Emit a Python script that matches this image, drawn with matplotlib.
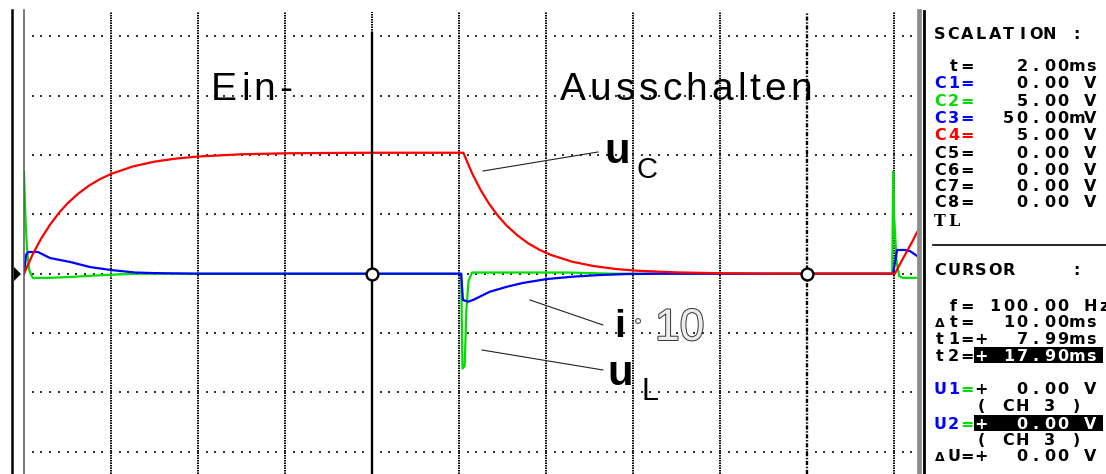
import numpy as np
import matplotlib.pyplot as plt
import matplotlib.patheffects as pe
from matplotlib.font_manager import FontProperties
from matplotlib.patches import Rectangle

plt.rcParams['lines.scale_dashes'] = False

# screen settings: 2 ms/div, C2/C4 at 5 V/div, C3 (shunt) at 50 mV/div
MS_PER_DIV = 2.0
UC_PER_DIV = 5.0
UL_PER_DIV = 5.0
I_PER_DIV = 50.0
cursor_t = [8.0, 18.0]

# C4: capacitor voltage u_C  (ms, V)
uc_t = [0.0, 0.2, 0.4, 0.6, 0.8, 1.0, 1.25, 1.5, 1.75, 2.0, 2.5, 3.0, 3.5, 4.0,
        5.0, 6.0, 7.0, 8.0, 10.1, 10.3, 10.5, 10.7, 10.9, 11.1, 11.35, 11.6,
        11.85, 12.1, 12.6, 13.1, 13.6, 14.1, 15.0, 16.0, 17.0, 20.02, 20.15,
        20.3, 20.42, 20.53]
uc_v = [0.0, 1.63, 3.00, 4.14, 5.11, 5.93, 6.76, 7.44, 7.98, 8.41, 9.04, 9.45,
        9.71, 9.88, 10.07, 10.15, 10.18, 10.2, 10.2, 8.48, 7.04, 5.85, 4.86,
        4.04, 3.21, 2.54, 2.02, 1.60, 1.01, 0.64, 0.40, 0.25, 0.11, 0.04, 0.0,
        0.0, 0.9, 1.9, 2.7, 3.5]

# C2: coil voltage u_L  (ms, V)
ul_t = [0.0, 0.03, 0.07, 0.12, 0.2, 0.6, 1.2, 1.8, 2.6, 10.05, 10.08, 10.13,
        10.17, 10.22, 10.3, 12.5, 13.5, 19.96, 19.98, 20.0, 20.06, 20.12, 20.2,
        20.53]
ul_v = [8.6, 5.0, 2.0, 0.3, -0.35, -0.35, -0.25, -0.12, 0.0, 0.0, -8.0, -7.8,
        -3.0, -0.6, 0.1, 0.1, 0.0, 0.0, 8.6, 5.0, 1.0, -0.2, -0.35, -0.35]

# C3: current i, as shunt voltage  (ms, mV)
i_t = [0.0, 0.05, 0.1, 0.32, 0.6, 1.06, 1.52, 2.0, 2.55, 3.0, 4.0, 10.05,
       10.09, 10.21, 10.32, 10.71, 11.1, 11.47, 12.02, 12.62, 13.24, 13.86,
       14.6, 19.98, 20.07, 20.25, 20.37, 20.53]
i_mv = [0.0, 16.0, 18.3, 18.3, 13.2, 9.9, 5.6, 3.1, 1.0, 0.5, 0.0, 0.0, -22.2,
        -23.6, -22.2, -15.2, -11.0, -7.8, -4.5, -2.5, -1.1, -0.3, 0.0, 0.0,
        20.0, 20.0, 19.0, 15.0]

W, H = 1106, 474
fig = plt.figure(figsize=(W / 100, H / 100), dpi=100, facecolor='white')

# screen area: 87 px per division across, 59.3 px per division up
ax = fig.add_axes([24 / W, 0, (917 - 24) / W, (474 - 12) / H])
ax.set_xlim(0, (917 - 24) / 87 * MS_PER_DIV)
ax.set_ylim((273.7 - 474) / 59.3, (273.7 - 12) / 59.3)
ax.axis('off')

# graticule
grid_ls = (0, (1.1, 0.7))
for k in range(1, 11):
    t = k * MS_PER_DIV
    if t in cursor_t:
        continue
    ax.axvline(t, color='k', lw=1.4, ls=grid_ls, zorder=1)
ax.axvline(cursor_t[0], ymin=(474 - 33) / (474 - 12), color='k', lw=1.4,
           ls=grid_ls, zorder=1)
dot_x = np.arange(0.2, 20.5, 0.2)
for row in range(-3, 5):
    ax.scatter(dot_x, np.full(dot_x.size, row), marker='s', s=2.0,
               color='#333333', linewidths=0, zorder=1)

# traces
ax.plot(ul_t, np.array(ul_v) / UL_PER_DIV, color='#00e000', lw=1.6, zorder=3)
ax.plot(i_t, np.array(i_mv) / I_PER_DIV, color='#0000ff', lw=1.6, zorder=4)
ax.plot(uc_t, np.array(uc_v) / UC_PER_DIV, color='#ff0000', lw=1.6, zorder=5)

# cursors
ax.axvline(cursor_t[0], ymax=(474 - 33) / (474 - 12), color='k', lw=1.7, zorder=6)
ax.axvline(cursor_t[1], color='k', lw=1.7, ls=(0, (3, 1.2, 1, 1.2)), zorder=6)
ax.plot(cursor_t, [0, 0], 'o', ms=8.5, mfc='white', mec='k', mew=1.7, zorder=7)

# frame, labels and side panel in pixel coordinates
ov = fig.add_axes([0, 0, 1, 1])
ov.set_xlim(0, W)
ov.set_ylim(H, 0)
ov.axis('off')
ov.set_zorder(3)

ov.plot([12, 12], [10, H], color='k', lw=1.8)
ov.plot([24, 24], [10, H], color='#555555', lw=1.1)
ov.fill([14, 21, 14], [267, 274, 281], color='k', lw=0)
ov.plot([919.2, 919.2], [11, H], color='#8c8c8c', lw=3.4)
ov.plot([923.5, 923.5], [11, H], color='k', lw=2.0)
ov.plot([933, W], [244.5, 244.5], color='k', lw=1.2)

renderer = fig.canvas.get_renderer()


def spaced(x, y, s, size, gap, **kw):
    fp = FontProperties(family='Liberation Sans', size=size)
    for k, ch in enumerate(s):
        w = renderer.get_text_width_height_descent(s[:k], fp, ismath=False)[0] if k else 0
        ov.text(x + w + gap * k, y, ch, fontproperties=fp, ha='left',
                va='baseline', **kw)


spaced(211, 100, 'Ein-', 28, 4)
spaced(560, 100, 'Ausschalten', 28, 4)

arial = dict(family='Liberation Sans', va='baseline', ha='left', color='k')
ov.text(604, 163, 'u', fontsize=30, fontweight='bold', **arial)
ov.text(637, 178, 'C', fontsize=21, **arial)
ov.text(614, 337, 'i', fontsize=28, fontweight='bold', **arial)
ov.text(638, 321, '∘', fontsize=14, family='DejaVu Sans', color='#555555',
        ha='center', va='center')
ov.text(655, 340, '10', fontsize=32, family='Liberation Sans', color='#ececec',
        va='baseline', ha='left',
        path_effects=[pe.withStroke(linewidth=1.4, foreground='#333333')])
ov.text(607, 385, 'u', fontsize=30, fontweight='bold', **arial)
ov.text(641, 400, 'L', fontsize=22, **arial)

for (x0, y0), (x1, y1) in [((483, 171), (598, 152)),
                           ((530, 300), (603, 325)),
                           ((482, 350), (603, 370))]:
    ov.plot([x0, x1], [y0, y1], color='#222222', lw=0.8)

# side panel, fixed character grid
PX, PITCH = 933, 13.7
BLUE, GREEN, RED = '#0000ff', '#00e000', '#ff0000'


def row(y, s, colors=None, color='k', family='DejaVu Sans'):
    for k, ch in enumerate(s):
        if ch == ' ':
            continue
        c = colors.get(k, color) if colors else color
        size = 9 if ch == 'Δ' else 11.5
        ov.text(PX + PITCH * (k + 0.5), y, ch, fontsize=size, fontweight='bold',
                family=family, color=c, ha='center', va='baseline')


def boxed(y, col, s):
    ov.add_patch(Rectangle((PX + PITCH * col, y - 14), W - 3 - PX - PITCH * col, 16,
                           color='k', lw=0))
    row(y, ' ' * col + s, color='white')


row(39, 'SCALATION :')
row(71, ' t=   2.00ms')
row(88, 'C1=   0.00 V', {0: BLUE, 1: BLUE, 2: BLUE})
row(106, 'C2=   5.00 V', {0: GREEN, 1: GREEN, 2: GREEN})
row(123, 'C3=  50.00mV', {0: BLUE, 1: BLUE, 2: BLUE})
row(140, 'C4=   5.00 V', {0: RED, 1: RED, 2: RED})
row(158, 'C5=   0.00 V')
row(175, 'C6=   0.00 V')
row(191, 'C7=   0.00 V')
row(207, 'C8=   0.00 V')
row(226, 'TL', family='DejaVu Serif')

row(275, 'CURSOR    :')
row(311, ' f= 100.00 Hz')
row(327, 'Δt=  10.00ms')
row(344, 't1=+  7.99ms')
row(361, 't2=')
boxed(361, 3, '+ 17.90ms')
row(394, 'U1=+  0.00 V', {0: BLUE, 1: BLUE, 2: GREEN})
row(411, '   ( CH 3 )')
row(429, 'U2=', {0: BLUE, 1: BLUE, 2: GREEN})
boxed(429, 3, '+  0.00 V')
row(445, '   ( CH 3 )')
row(461, 'ΔU=+  0.00 V')

fig.savefig('out.png', dpi=100)
